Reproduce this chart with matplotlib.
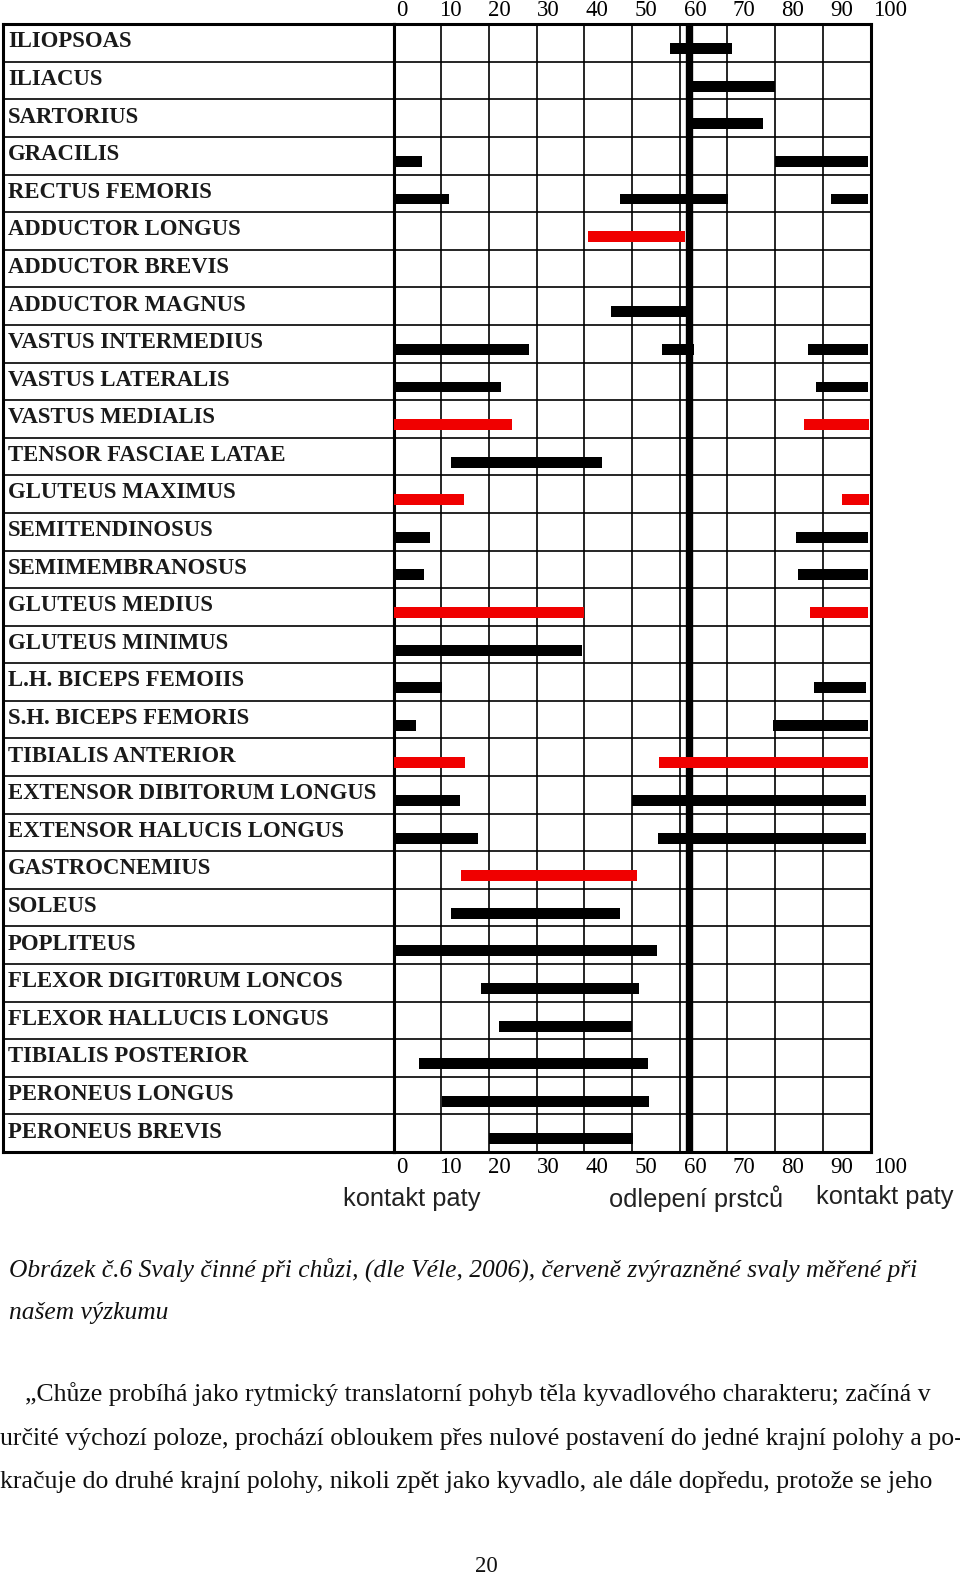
import matplotlib
matplotlib.use("Agg")
import matplotlib.pyplot as plt

# muscles, top to bottom (spelling as in the scanned figure)
muscles = ["ILIOPSOAS", "ILIACUS", "SARTORIUS", "GRACILIS", "RECTUS FEMORIS",
           "ADDUCTOR LONGUS", "ADDUCTOR BREVIS", "ADDUCTOR MAGNUS",
           "VASTUS INTERMEDIUS", "VASTUS LATERALIS", "VASTUS MEDIALIS",
           "TENSOR FASCIAE LATAE", "GLUTEUS MAXIMUS", "SEMITENDINOSUS",
           "SEMIMEMBRANOSUS", "GLUTEUS MEDIUS", "GLUTEUS MINIMUS",
           "L.H. BICEPS FEMOIIS", "S.H. BICEPS FEMORIS", "TIBIALIS ANTERIOR",
           "EXTENSOR DIBITORUM LONGUS", "EXTENSOR HALUCIS LONGUS",
           "GASTROCNEMIUS", "SOLEUS", "POPLITEUS", "FLEXOR DIGIT0RUM LONCOS",
           "FLEXOR HALLUCIS LONGUS", "TIBIALIS POSTERIOR", "PERONEUS LONGUS",
           "PERONEUS BREVIS"]

# activity intervals in % of gait cycle (start, end)
activity = [
    [(58, 71)],
    [(62, 80)],
    [(62, 77.5)],
    [(0, 6), (80, 99.4)],
    [(0, 11.6), (47.4, 70.1), (91.8, 99.5)],
    [(40.7, 61.2)],
    [],
    [(45.5, 61.6)],
    [(0, 28.5), (56.3, 63), (87, 99.4)],
    [(0, 22.6), (88.5, 99.4)],
    [(0, 24.9), (86.1, 99.6)],
    [(12, 43.8)],
    [(0, 14.7), (94.1, 99.6)],
    [(0, 7.6), (84.3, 99.5)],
    [(0, 6.4), (84.9, 99.4)],
    [(0, 40), (87.4, 99.4)],
    [(0, 39.5)],
    [(0, 10.1), (88.1, 99)],
    [(0, 4.8), (79.5, 99.4)],
    [(0, 14.9), (55.6, 99.4)],
    [(0, 14), (50, 99)],
    [(0, 17.7), (55.4, 99)],
    [(14.2, 51.1)],
    [(12, 47.5)],
    [(0, 55.2)],
    [(18.4, 51.4)],
    [(22.2, 50.1)],
    [(5.4, 53.3)],
    [(10.1, 53.6)],
    [(20.1, 50.3)],
]

# muscles measured in the study (drawn red)
measured = ["ADDUCTOR LONGUS", "VASTUS MEDIALIS", "GLUTEUS MAXIMUS",
            "GLUTEUS MEDIUS", "TIBIALIS ANTERIOR", "GASTROCNEMIUS"]

ticks = [0, 10, 20, 30, 40, 50, 60, 70, 80, 90, 100]
toe_off = 62

W, H = 960, 1578
fig = plt.figure(figsize=(W / 100, H / 100), dpi=100)


def fx(x):
    return x / W


def fy(y):
    return 1 - y / H


top, bottom = 24.2, 1152
left, mid, right = 3, 393.5, 870.5
n = len(muscles)

# label column
axl = fig.add_axes([fx(left), fy(bottom), fx(mid - left), fy(top) - fy(bottom)])
axl.set_xlim(0, 1)
axl.set_ylim(n, 0)
axl.set_xticks([])
axl.set_yticks([])
for s in axl.spines.values():
    s.set_linewidth(2.2)
for i in range(1, n):
    axl.axhline(i, color="black", lw=1.2)
for i, m in enumerate(muscles):
    axl.text(5 / (mid - left), i + 0.47, m, va="center", ha="left",
             fontsize=16.4, weight="bold", family="Liberation Serif", color="#1a1a1a")

# bar area
ax = fig.add_axes([fx(mid), fy(bottom), fx(right - mid), fy(top) - fy(bottom)])
ax.set_xlim(0, 100)
ax.set_ylim(n, 0)
ax.set_xticks([])
ax.set_yticks([])
for s in ax.spines.values():
    s.set_linewidth(2.2)
for i in range(1, n):
    ax.axhline(i, color="black", lw=1.2)
for v in ticks[1:-1]:
    ax.axvline(v, color="black", lw=1.2)
ax.axvline(toe_off, color="black", lw=5.3)

for i, m in enumerate(muscles):
    col = "#f00000" if m in measured else "black"
    segs = activity[i]
    if segs:
        ax.barh([i + 0.65] * len(segs), [e - s for s, e in segs],
                left=[s for s, e in segs], height=0.29, color=col, zorder=3)

# scale numbers above and below; printed slightly right of the grid lines
xt = ax.get_xaxis_transform()
for t in ticks:
    for yy, va in ((1.0125, "center"), (-0.014, "center")):
        ax.text(1.7 + t * 1.025, yy, str(t), transform=xt, ha="center", va=va,
                fontsize=16.5, family="Liberation Serif", clip_on=False)

sans = dict(family="Liberation Sans", fontsize=18.3, color="#222", ha="center", va="center")
fig.text(fx(412), fy(1199), "kontakt paty", **sans)
fig.text(fx(696), fy(1199), "odlepení prstců", **sans)
fig.text(fx(885), fy(1197), "kontakt paty", **sans)

cap = dict(family="Liberation Serif", style="italic", fontsize=18.4, color="#111",
           ha="left", va="center")
fig.text(fx(9), fy(1270),
         "Obrázek č.6 Svaly činné při chůzi, (dle Véle, 2006), červeně zvýrazněné svaly měřené při",
         **cap)
fig.text(fx(9), fy(1313), "našem výzkumu", **cap)

body = dict(family="Liberation Serif", fontsize=18.5, color="#111", ha="left", va="center")
fig.text(fx(25), fy(1394),
         "\u201eChůze probíhá jako rytmický translatorní pohyb těla kyvadlového charakteru; začíná v",
         **body)
fig.text(fx(0), fy(1439),
         "určité výchozí poloze, prochází obloukem přes nulové postavení do jedné krajní polohy a po-",
         **body)
fig.text(fx(0), fy(1482),
         "kračuje do druhé krajní polohy, nikoli zpět jako kyvadlo, ale dále dopředu, protože se jeho",
         **body)
fig.text(fx(486), fy(1567), "20", family="Liberation Serif", fontsize=16.5,
         color="#111", ha="center", va="center")

fig.savefig("out.png", dpi=100, facecolor="white")
